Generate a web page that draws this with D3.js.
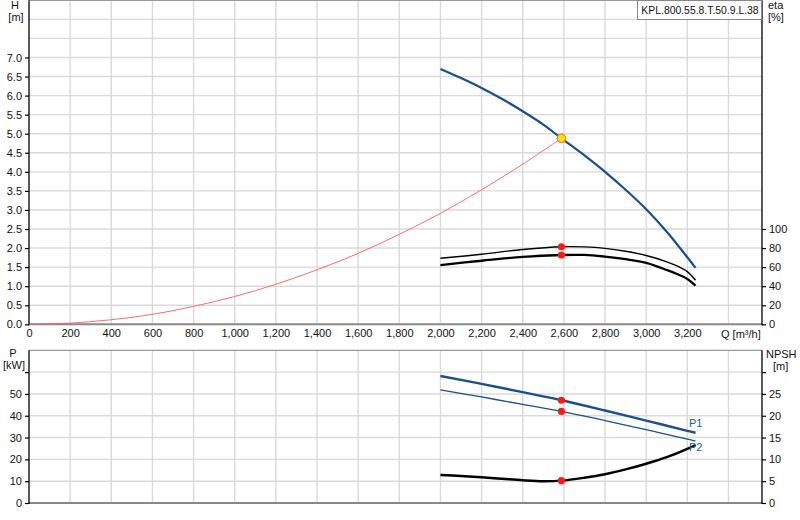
<!DOCTYPE html>
<html><head><meta charset="utf-8">
<script src="https://cdn.jsdelivr.net/npm/d3@7"></script>
<style>
body{margin:0;background:#fff;}
svg{display:block;font-family:"Liberation Sans",Arial,sans-serif;}
</style></head>
<body><svg id="c" width="800" height="520"></svg>
<script>
// ---- data ----
const xTicks = [0,200,400,600,800,1000,1200,1400,1600,1800,2000,2200,2400,2600,2800,3000,3200,3400];
const xLabelTicks = [0,200,400,600,800,1000,1200,1400,1600,1800,2000,2200,2400,2600,2800,3000,3200];
const hTicks = [0,0.5,1,1.5,2,2.5,3,3.5,4,4.5,5,5.5,6,6.5,7];
const hGrid = [0.5,1,1.5,2,2.5,3,3.5,4,4.5,5,5.5,6,6.5,7,7.5,8];
const etaTicks = [0,20,40,60,80,100];
const pTicks = [0,10,20,30,40,50];
const pGrid = [10,20,30,40,50,60];
const npshTicks = [0,5,10,15,20,25];

const flowH = [2000,2100,2200,2300,2400,2500,2588,2700,2800,2900,3000,3100,3200,3240];
const headH = [6.70,6.46,6.20,5.91,5.59,5.24,4.88,4.43,4.00,3.53,3.02,2.43,1.76,1.48];

const flowSys = [0,200,400,600,800,1000,1200,1400,1600,1800,2000,2200,2400,2588];
const headSys = [0,0.03,0.12,0.26,0.47,0.73,1.05,1.43,1.86,2.36,2.91,3.53,4.20,4.88];

const flowEta = [2000,2200,2400,2588,2700,2800,2900,3000,3100,3150,3200,3240];
const eta1 = [69.3,73.5,78.5,81.4,81.2,79.7,76.6,72.2,65.6,61.2,55.3,46.2];
const eta2 = [62.2,66.7,70.8,72.7,72.8,71.0,68.3,64.5,57.0,52.8,47.6,40.5];

const flowP = [2000,2200,2400,2588,2800,3000,3200,3240];
const powerP1 = [58.2,54.6,50.8,47.1,42.4,37.8,33.1,32.2];
const powerP2 = [51.9,48.6,45.2,42.0,37.8,33.6,29.3,28.4];

const flowN = [2000,2100,2200,2300,2400,2500,2588,2700,2800,2900,3000,3100,3200,3240];
const npsh = [6.42,6.20,5.90,5.55,5.20,4.98,5.12,5.80,6.60,7.70,9.00,10.50,12.40,13.30];

const opQ = 2588, opH = 4.88, opEta1 = 81.4, opEta2 = 72.7, opP1 = 47.1, opP2 = 42.0, opN = 5.12;
const title = "KPL.800.55.8.T.50.9.L.38";

// ---- layout ----
const svg = d3.select("#c");
svg.append("rect").attr("width",800).attr("height",520).attr("fill","#fff");
const L = 29, R = 762;
const x = d3.scaleLinear().domain([0,3563]).range([L,R]);
const yH = d3.scaleLinear().domain([0,8.5]).range([324.3,0.3]);
const yEta = d3.scaleLinear().domain([0,340]).range([324.3,0.3]);
const yP = d3.scaleLinear().domain([0,70]).range([503,350.3]);
const yN = d3.scaleLinear().domain([0,35]).range([503,350.3]);
const gridCol = "#d9d9d9";
const fmtX = d3.format(",");
const fmtH = d3.format(".1f");

function panel(yScale, gridVals, top, bottom){
  const g = svg.append("g");
  g.selectAll(".vg").data(xTicks.filter(d=>d>0)).join("line")
    .attr("x1",d=>x(d)).attr("x2",d=>x(d)).attr("y1",top).attr("y2",bottom)
    .attr("stroke",gridCol).attr("stroke-width",1.4);
  g.selectAll(".hg").data(gridVals).join("line")
    .attr("x1",L).attr("x2",R).attr("y1",d=>yScale(d)).attr("y2",d=>yScale(d))
    .attr("stroke",gridCol).attr("stroke-width",1.4);
  g.append("line").attr("x1",L).attr("x2",R).attr("y1",top).attr("y2",top).attr("stroke","#999").attr("stroke-width",1.2);
  g.append("line").attr("x1",L).attr("x2",R).attr("y1",bottom).attr("y2",bottom).attr("stroke","#888").attr("stroke-width",2);
  g.append("line").attr("x1",L).attr("x2",L).attr("y1",top).attr("y2",bottom+1).attr("stroke","#000").attr("stroke-width",1.3);
  g.append("line").attr("x1",R).attr("x2",R).attr("y1",top).attr("y2",bottom+1).attr("stroke","#000").attr("stroke-width",1.3);
}
panel(yH, hGrid, 0.3, 324.3);
panel(yP, pGrid, 350.3, 503);

function styleAxis(g){
  g.select(".domain").remove();
  g.selectAll(".tick line").attr("stroke","#000").attr("stroke-width",1.2);
  g.selectAll(".tick text").attr("fill","#111").style("font-size","11px").style("font-family","'Liberation Sans',Arial,sans-serif");
}
svg.append("g").attr("transform",`translate(${L},0)`)
  .call(d3.axisLeft(yH).tickValues(hTicks).tickFormat(fmtH).tickSize(4).tickPadding(3)).call(styleAxis);
svg.append("g").attr("transform",`translate(${R},0)`)
  .call(d3.axisRight(yEta).tickValues(etaTicks).tickSize(4).tickPadding(3)).call(styleAxis);
svg.append("g").attr("transform",`translate(${L},0)`)
  .call(d3.axisLeft(yP).tickValues(pTicks.concat([60])).tickFormat(d=>d===60?"":d).tickSize(4).tickPadding(3)).call(styleAxis);
svg.append("g").attr("transform",`translate(${R},0)`)
  .call(d3.axisRight(yN).tickValues(npshTicks.concat([30])).tickFormat(d=>d===30?"":d).tickSize(4).tickPadding(3)).call(styleAxis);
svg.append("g").attr("transform",`translate(0,324.3)`)
  .call(d3.axisBottom(x).tickValues(xLabelTicks).tickFormat(fmtX).tickSize(0).tickPadding(5)).call(styleAxis);

function txt(s,xx,yy,anchor,col,size){
  return svg.append("text").attr("x",xx).attr("y",yy).attr("text-anchor",anchor||"start")
    .attr("fill",col||"#111").style("font-size",(size||11)+"px").text(s);
}
txt("H",15,9,"middle");
txt("[m]",16,21,"middle");
txt("eta",768,9);
txt("[%]",768,21);
txt("Q [m³/h]",721,338);
txt("P",13,357,"middle");
txt("[kW]",14,369,"middle");
txt("NPSH",766,358);
txt("[m]",773,370);

// legend box
svg.append("rect").attr("x",637.5).attr("y",0.5).attr("width",124).attr("height",19)
  .attr("fill","#fff").attr("stroke","#888").attr("stroke-width",1);
txt(title,700,13.5,"middle","#111",10.4);

// curves
const line = (xs,ys,ysc)=>d3.line().x((d,i)=>x(xs[i])).y((d,i)=>ysc(ys[i])).curve(d3.curveCatmullRom.alpha(0.5))(ys);
svg.append("path").attr("d",line(flowSys,headSys,yH)).attr("fill","none").attr("stroke","#ff5a5a").attr("stroke-width",0.9);
svg.append("path").attr("d",line(flowH,headH,yH)).attr("fill","none").attr("stroke","#1b4f8a").attr("stroke-width",2.2);
svg.append("path").attr("d",line(flowEta,eta1,yEta)).attr("fill","none").attr("stroke","#000").attr("stroke-width",1.4);
svg.append("path").attr("d",line(flowEta,eta2,yEta)).attr("fill","none").attr("stroke","#000").attr("stroke-width",2.3);
svg.append("path").attr("d",line(flowP,powerP1,yP)).attr("fill","none").attr("stroke","#1b4f8a").attr("stroke-width",2.4);
svg.append("path").attr("d",line(flowP,powerP2,yP)).attr("fill","none").attr("stroke","#1b4f8a").attr("stroke-width",1.3);
svg.append("path").attr("d",line(flowN,npsh,yN)).attr("fill","none").attr("stroke","#000").attr("stroke-width",2.4);

// points
svg.append("circle").attr("cx",x(opQ)).attr("cy",yH(opH)).attr("r",4.2).attr("fill","#ffe600").attr("stroke","#f08030").attr("stroke-width",1.2);
[[yEta,opEta1],[yEta,opEta2],[yP,opP1],[yP,opP2],[yN,opN]].forEach(([s,v])=>{
  svg.append("circle").attr("cx",x(opQ)).attr("cy",s(v)).attr("r",3.6).attr("fill","#ff1a1a");
});

txt("P1",689,427,"start","#1b5a9a");
txt("P2",689,451,"start","#1b5a9a");
</script></body></html>
